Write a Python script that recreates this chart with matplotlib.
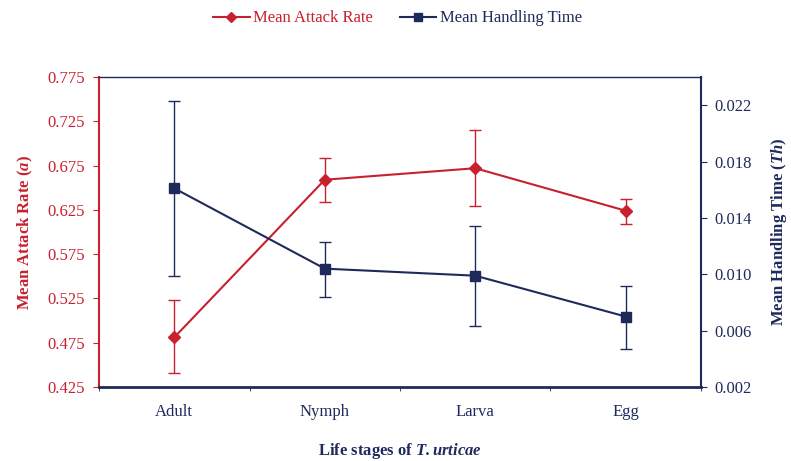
import matplotlib
matplotlib.use("Agg")
import matplotlib.pyplot as plt
from matplotlib.lines import Line2D
import numpy as np

stages = ["Adult", "Nymph", "Larva", "Egg"]
attack_rate = [0.481, 0.659, 0.672, 0.624]
attack_lo = [0.441, 0.634, 0.629, 0.609]
attack_hi = [0.523, 0.683, 0.715, 0.637]
handling = [0.0161, 0.0104, 0.0099, 0.0070]
handling_lo = [0.0099, 0.0084, 0.0063, 0.0047]
handling_hi = [0.0223, 0.0123, 0.0134, 0.0092]

RED = "#C8202F"
NAVY = "#1F2A5C"

plt.rcParams["font.family"] = ["Liberation Serif", "DejaVu Serif"]
plt.rcParams["mathtext.fontset"] = "custom"
plt.rcParams["mathtext.rm"] = "Liberation Serif"
plt.rcParams["mathtext.it"] = "Liberation Serif:italic"
plt.rcParams["mathtext.bf"] = "Liberation Serif:bold"
plt.rcParams["mathtext.bfit"] = "Liberation Serif:italic:bold"

fig = plt.figure(figsize=(7.91, 4.61), dpi=100)
ax = fig.add_axes([0.1252, 0.1605, 0.7610, 0.6725])
ax2 = ax.twinx()

x = np.arange(len(stages))
a = np.array(attack_rate)
h = np.array(handling)
a_err = [a - np.array(attack_lo), np.array(attack_hi) - a]
h_err = [h - np.array(handling_lo), np.array(handling_hi) - h]

ax.errorbar(x, a, yerr=a_err, color=RED, marker="D", markersize=6, lw=1.5,
            ecolor=RED, elinewidth=1.0, capsize=4, capthick=1.0, zorder=3)
ax2.errorbar(x, h, yerr=h_err, color=NAVY, marker="s", markersize=7, lw=1.5,
             ecolor=NAVY, elinewidth=1.0, capsize=4, capthick=1.0, zorder=3)

ax.set_xlim(-0.5, len(stages) - 0.5)
ax.set_ylim(0.425, 0.775)
yt = np.arange(0.425, 0.776, 0.05)
ax.set_yticks(yt)
ax.set_yticklabels([f"{v:.3f}" for v in yt])
ax2.set_ylim(0.002, 0.024)
yt2 = np.arange(0.002, 0.0221, 0.004)
ax2.set_yticks(yt2)
ax2.set_yticklabels([f"{v:.3f}" for v in yt2])

ax.set_xticks(x)
ax.set_xticklabels(stages)
ax.set_xticks(np.arange(-0.5, len(stages), 1.0), minor=True)
ax.tick_params(axis="x", which="major", length=0, labelsize=12, labelcolor=NAVY, pad=12)
ax.tick_params(axis="x", which="minor", length=3, color=NAVY, direction="out")
ax.tick_params(axis="y", colors=RED, labelsize=12, length=4, direction="out", pad=6)
ax2.tick_params(axis="y", colors=NAVY, labelsize=12, length=4, direction="out", pad=6)

ax2.spines["left"].set_color(RED)
ax2.spines["left"].set_linewidth(1.5)
ax2.spines["right"].set_color(NAVY)
ax2.spines["right"].set_linewidth(1.5)
ax2.spines["top"].set_color(NAVY)
ax2.spines["top"].set_linewidth(1.0)
ax2.spines["bottom"].set_color(NAVY)
ax2.spines["bottom"].set_linewidth(2.0)
for s in ax.spines.values():
    s.set_visible(False)

ax.set_ylabel(r"Mean Attack Rate ($\mathbfit{a}$)", color=RED, fontsize=12,
              fontweight="bold", labelpad=9)
ax2.set_ylabel(r"Mean Handling Time ($\mathbfit{Th}$)", color=NAVY, fontsize=12,
               fontweight="bold", labelpad=12)
ax.set_xlabel(r"Life stages of $\mathbfit{T. urticae}$", color=NAVY, fontsize=12,
              fontweight="bold", labelpad=15)

handles = [Line2D([], [], color=RED, marker="D", markersize=5, lw=1.5),
           Line2D([], [], color=NAVY, marker="s", markersize=6, lw=1.5)]
leg = fig.legend(handles, ["Mean Attack Rate", "Mean Handling Time"],
                 loc="center", bbox_to_anchor=(0.5025, 0.96), ncol=2, frameon=False,
                 fontsize=12, handlelength=2.2, columnspacing=1.6, handletextpad=0.2)
leg.get_texts()[0].set_color(RED)
leg.get_texts()[1].set_color(NAVY)

fig.savefig("out.png", dpi=100)
